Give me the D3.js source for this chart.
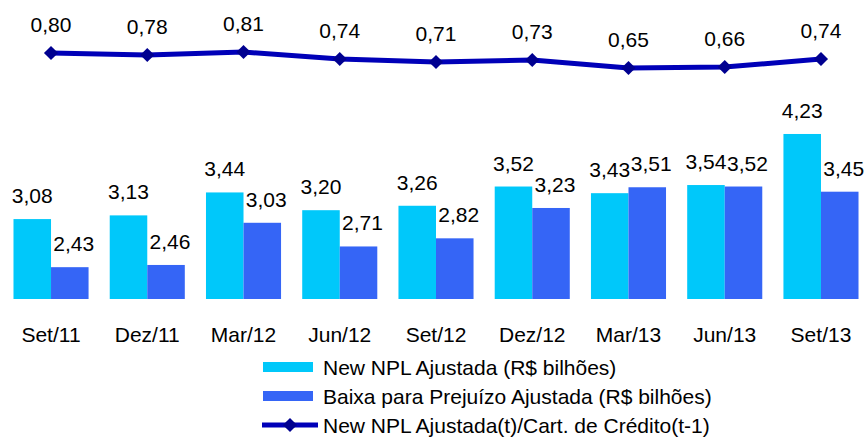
<!DOCTYPE html>
<html lang="pt">
<head>
<meta charset="UTF-8">
<title>New NPL</title>
<script src="https://cdn.jsdelivr.net/npm/d3@7"></script>
<style>
  body { margin: 0; background: #fff; }
  text { font-family: "Liberation Sans", Arial, sans-serif; fill: #000; }
</style>
</head>
<body>
<script>
    var width = 867;
    var height = 437;

    var categories = ["Set/11", "Dez/11", "Mar/12", "Jun/12", "Set/12", "Dez/12", "Mar/13", "Jun/13", "Set/13"];
    var newNpl = [3.08, 3.13, 3.44, 3.20, 3.26, 3.52, 3.43, 3.54, 4.23];
    var baixa = [2.43, 2.46, 3.03, 2.71, 2.82, 3.23, 3.51, 3.52, 3.45];
    var ratio = [0.80, 0.78, 0.81, 0.74, 0.71, 0.73, 0.65, 0.66, 0.74];
    var legendLabels = ["New NPL Ajustada (R$ bilhões)", "Baixa para Prejuízo Ajustada (R$ bilhões)", "New NPL Ajustada(t)/Cart. de Crédito(t-1)"];

    var cyan = "#00C8FA", blue = "#3565F6", navy = "#0000B8", markerFill = "#000090";

    function fmt(v) { return v.toFixed(2).replace(".", ","); }

    var svg = d3.select("body").append("svg")
        .attr("width", width)
        .attr("height", height);

    var x = d3.scaleBand()
        .domain(categories)
        .range([2.9, 869.1])
        .paddingInner(0.22)
        .paddingOuter(0.11);

    var sub = d3.scaleBand()
        .domain([0, 1])
        .range([0, x.bandwidth()]);

    // bar axis starts at 2 (not zero)
    var yBar = d3.scaleLinear().domain([2, 5]).range([299, 77]);
    var yLine = d3.scaleLinear().domain([0, 1]).range([133, 33]);

    var groups = svg.selectAll("g.cat")
        .data(categories)
        .enter()
        .append("g")
        .attr("class", "cat")
        .attr("transform", function (d) { return "translate(" + x(d) + ",0)"; });

    var series = [newNpl, baixa];
    var colors = [cyan, blue];
    var labelShift = [0, 4];

    series.forEach(function (vals, s) {
        groups.append("rect")
            .attr("x", sub(s))
            .attr("y", function (d, i) { return yBar(vals[i]); })
            .attr("width", sub.bandwidth())
            .attr("height", function (d, i) { return yBar(2) - yBar(vals[i]); })
            .attr("fill", colors[s]);

        groups.append("text")
            .attr("x", sub(s) + sub.bandwidth() / 2 + labelShift[s])
            .attr("y", function (d, i) { return yBar(vals[i]) - 16; })
            .attr("text-anchor", "middle")
            .style("font-size", "21px")
            .text(function (d, i) { return fmt(vals[i]); });
    });

    // category labels
    svg.selectAll("text.cat")
        .data(categories)
        .enter()
        .append("text")
        .attr("class", "cat")
        .attr("x", function (d) { return x(d) + x.bandwidth() / 2; })
        .attr("y", 341.5)
        .attr("text-anchor", "middle")
        .style("font-size", "21px")
        .text(function (d) { return d; });

    // line series
    var cx = function (d, i) { return x(categories[i]) + x.bandwidth() / 2; };

    svg.append("path")
        .datum(ratio)
        .attr("fill", "none")
        .attr("stroke", navy)
        .attr("stroke-width", 5)
        .attr("stroke-linejoin", "round")
        .attr("d", d3.line().x(cx).y(function (d) { return yLine(d); }));

    var diamond = d3.symbol().type(d3.symbolSquare).size(100);

    svg.selectAll("path.pt")
        .data(ratio)
        .enter()
        .append("path")
        .attr("class", "pt")
        .attr("transform", function (d, i) { return "translate(" + cx(d, i) + "," + yLine(d) + ") rotate(45)"; })
        .attr("d", diamond)
        .attr("fill", markerFill);

    svg.selectAll("text.pt")
        .data(ratio)
        .enter()
        .append("text")
        .attr("class", "pt")
        .attr("x", cx)
        .attr("y", function (d) { return yLine(d) - 21; })
        .attr("text-anchor", "middle")
        .style("font-size", "21px")
        .text(fmt);

    // legend
    var legend = svg.append("g").attr("transform", "translate(262,367)");
    legendLabels.forEach(function (lab, i) {
        var g = legend.append("g").attr("transform", "translate(0," + (i * 29) + ")");
        if (i < 2) {
            g.append("rect")
                .attr("x", 1).attr("y", -5)
                .attr("width", 50).attr("height", 10)
                .attr("fill", colors[i]);
        } else {
            g.append("line")
                .attr("x1", 0).attr("x2", 56)
                .attr("y1", 0).attr("y2", 0)
                .attr("stroke", navy)
                .attr("stroke-width", 5);
            g.append("path")
                .attr("transform", "translate(28,0) rotate(45)")
                .attr("d", diamond)
                .attr("fill", markerFill);
        }
        g.append("text")
            .attr("x", 61)
            .attr("y", 8)
            .style("font-size", "21px")
            .text(lab);
    });
</script>
</body>
</html>
